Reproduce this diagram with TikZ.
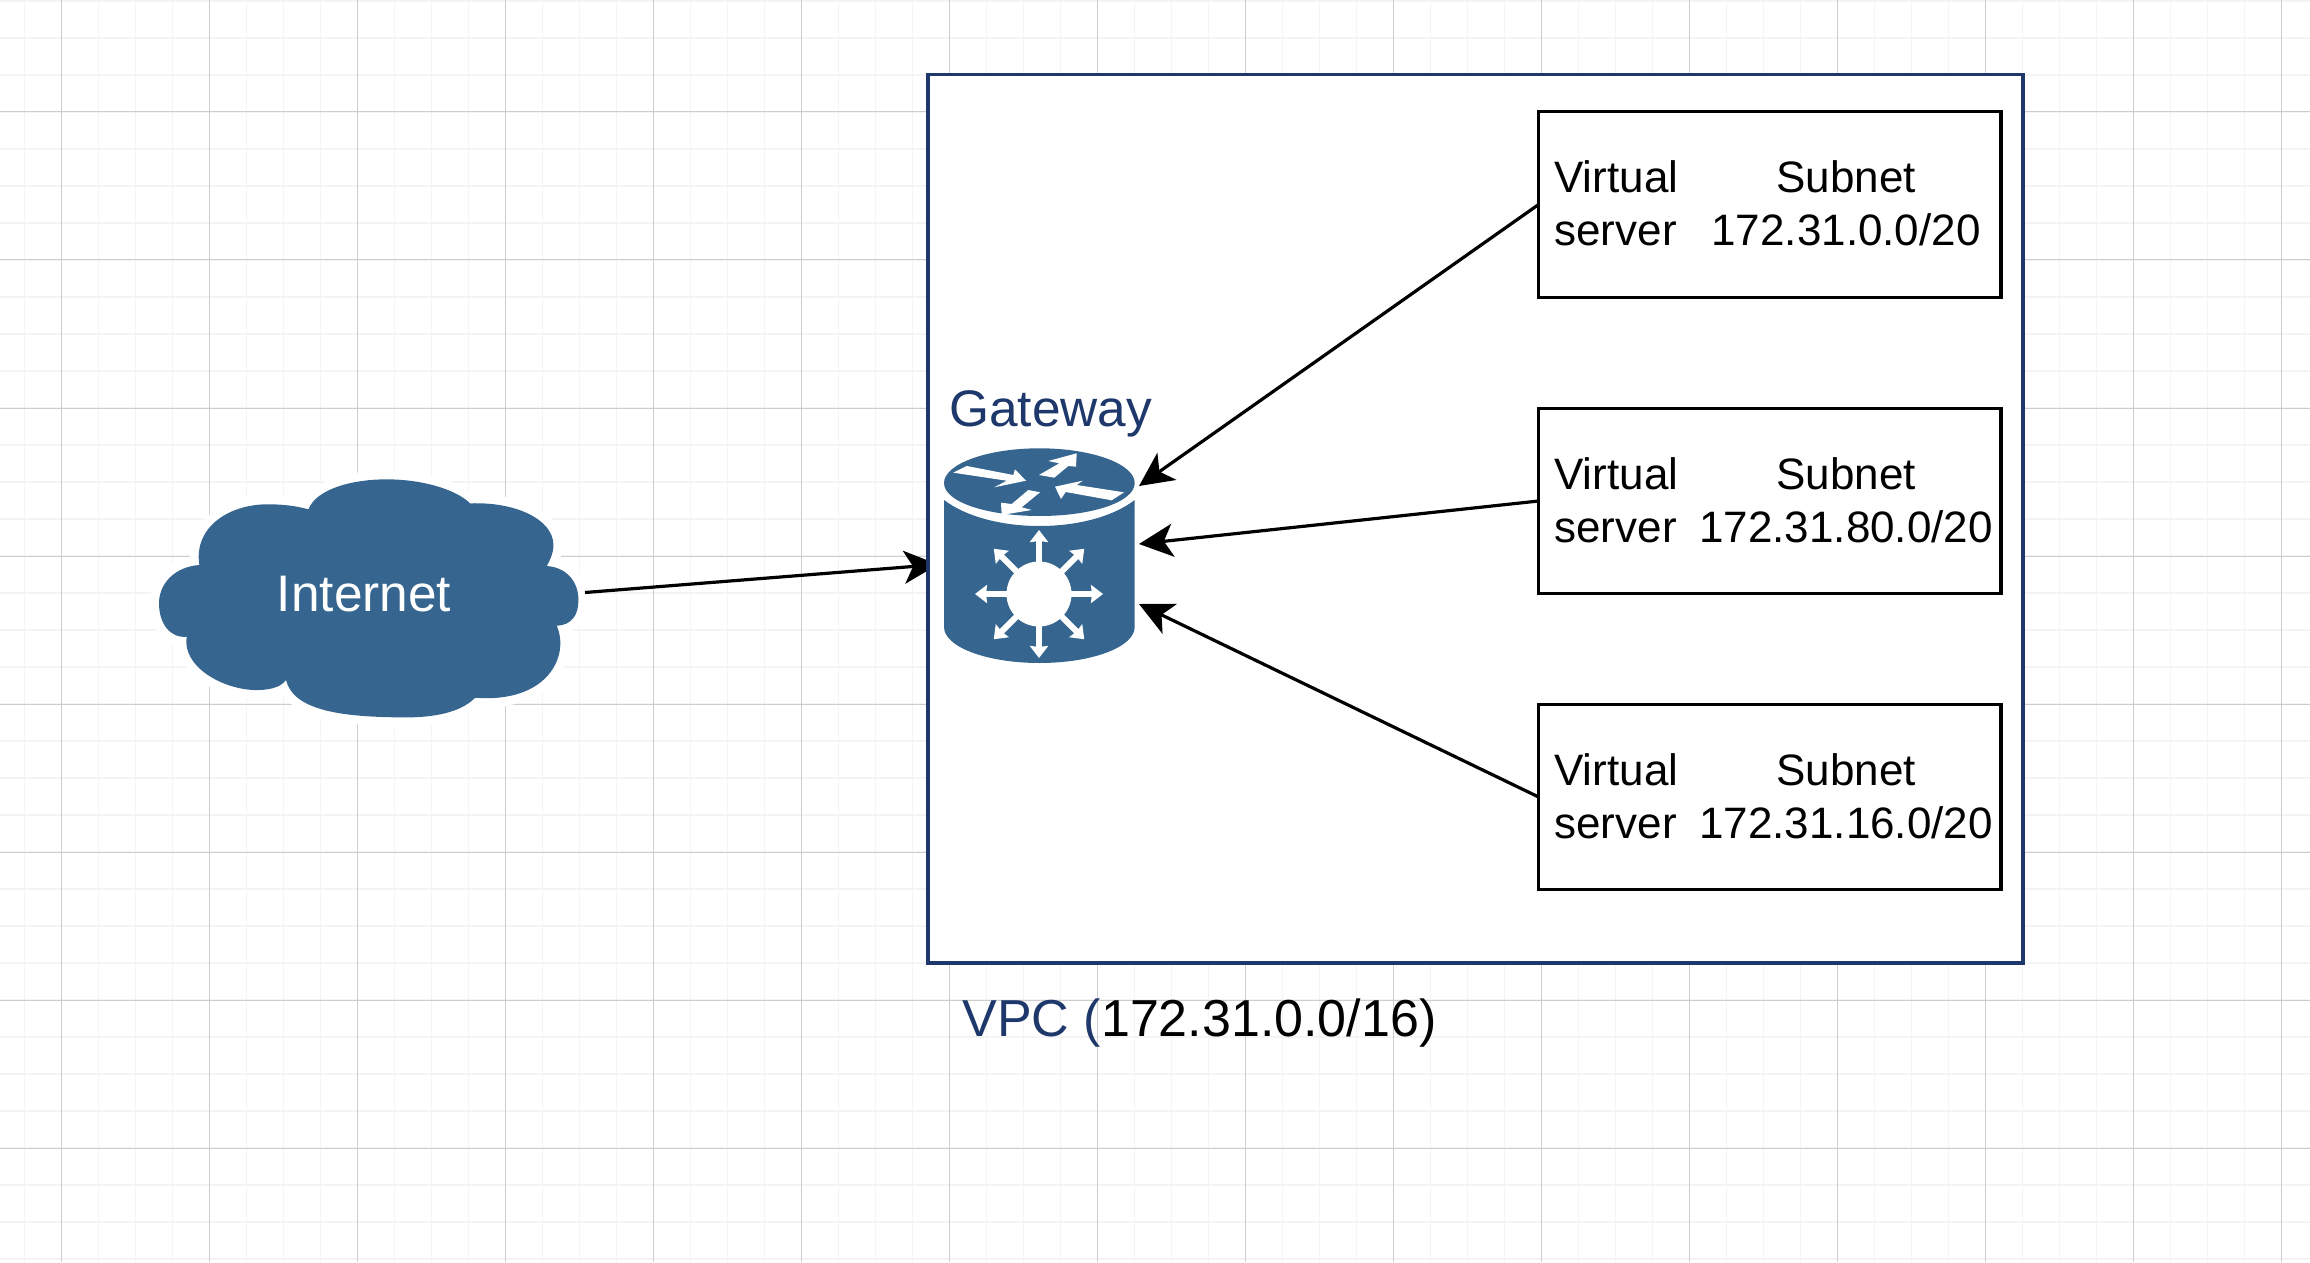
\documentclass[tikz,border=0pt]{standalone}
\usepackage{fontspec}
\setmainfont{Liberation Sans}
\usetikzlibrary{arrows.meta}
\definecolor{vpcnavy}{RGB}{31,56,107}
\definecolor{ciscoblue}{RGB}{54,102,143}
\definecolor{gridmajor}{RGB}{205,205,205}
\definecolor{gridminor}{RGB}{244,244,244}
\tikzset{
	vpcbox/.style={draw=vpcnavy,fill=white,line width=1.7pt,outer sep=0pt,inner sep=0pt,minimum width=547.5pt,minimum height=444.25pt},
	subnetbox/.style={draw=black,fill=white,line width=1.7pt,outer sep=0pt,inner sep=0pt,minimum width=231.2pt,minimum height=92.75pt},
	smalltext/.style={inner sep=0pt,font=\fontsize{22}{26.5}\selectfont},
	bigtext/.style={inner sep=0pt,font=\fontsize{25.7}{30}\selectfont},
	link/.style={black,line width=1.6pt,-{Stealth[length=17pt,width=16.5pt,inset=4.5pt]}},
	spoke/.style={white,line width=3pt,-{Stealth[length=6pt,width=9pt,inset=0.5pt]}}
}
\begin{document}
\begin{tikzpicture}[x=0.5pt,y=-0.5pt]
	\useasboundingbox (0,0) rectangle (2310,1262);
	\foreach \gx in {24.5,61.5,...,2310} \draw [gridminor,line width=0.75pt] (\gx,0)--(\gx,1262);
	\foreach \gy in {1,38,...,1262} \draw [gridminor,line width=0.75pt] (0,\gy)--(2310,\gy);
	\foreach \gx in {61.5,209.5,...,2310} \draw [gridmajor,line width=0.5pt] (\gx,0)--(\gx,1262);
	\foreach \gy in {112,260,...,1262} \draw [gridmajor,line width=0.5pt] (0,\gy)--(2310,\gy);

	\begin{scope}[shift={(140,460)},x=0.1667pt,y=-0.1667pt]
		\path [fill=ciscoblue,preaction={draw=white,line width=9pt}]
			(505,148) .. controls (530,85) and (640,58) .. (740,58) .. controls (850,58) and (950,90) .. (990,130)
			.. controls (1130,125) and (1240,180) .. (1240,255) .. controls (1240,280) and (1230,300) .. (1220,318)
			.. controls (1280,322) and (1315,365) .. (1315,420) .. controls (1315,465) and (1295,495) .. (1250,497)
			.. controls (1290,590) and (1220,730) .. (1005,713)
			.. controls (970,750) and (900,772) .. (800,772) .. controls (600,772) and (460,750) .. (438,660)
			.. controls (420,685) and (380,690) .. (350,690) .. controls (250,690) and (125,620) .. (140,530)
			.. controls (90,535) and (57,490) .. (57,430) .. controls (57,370) and (105,320) .. (178,315)
			.. controls (160,200) and (270,130) .. (390,133) .. controls (430,133) and (470,138) .. (505,148) -- cycle;
	\end{scope}
	\node [bigtext,white,anchor=base] (internet) at (364,611.7) {Internet};

	\coordinate (netout) at (585,592.5);
	\coordinate (gwleft) at (938,564.5);
	\draw [link] (netout)--(gwleft);

	\node [vpcbox] (vpc) at (1475.5,518.75) {};
	\node [bigtext,font=\fontsize{26}{30}\selectfont,anchor=base west] (vpclabel) at (962,1036) {\textcolor{vpcnavy}{VPC (}172.31.0.0/16)};

	\node [subnetbox] (boxa) at (1769.8,204.5) {};
	\node [subnetbox] (boxb) at (1769.8,501) {};
	\node [subnetbox] (boxc) at (1769.8,797) {};

	\node [smalltext,anchor=base west,align=left] (servera) at (1554,246) {Virtual\\server};
	\node [smalltext,anchor=base,align=center] (subneta) at (1846,246) {Subnet\\172.31.0.0/20};
	\node [smalltext,anchor=base west,align=left] (serverb) at (1554,542) {Virtual\\server};
	\node [smalltext,anchor=base,align=center] (subnetb) at (1846,542) {Subnet\\172.31.80.0/20};
	\node [smalltext,anchor=base west,align=left] (serverc) at (1554,838) {Virtual\\server};
	\node [smalltext,anchor=base,align=center] (subnetc) at (1846,838) {Subnet\\172.31.16.0/20};

	\node [bigtext,vpcnavy,anchor=base west] (gateway) at (949,426) {Gateway};

	\fill [ciscoblue] (944,483) .. controls (944,464) and (987,448.3) .. (1039.5,448.3) .. controls (1092,448.3) and (1134.7,464) .. (1134.7,483)
		.. controls (1134.7,502) and (1092,516) .. (1039.5,516) .. controls (987,516) and (944,502) .. (944,483) -- cycle;
	\fill [ciscoblue] (944,500) .. controls (965,516) and (1000,526) .. (1039.5,526) .. controls (1079,526) and (1114,516) .. (1134.7,500)
		-- (1134.7,627) .. controls (1134.7,647) and (1092,663) .. (1039.5,663) .. controls (987,663) and (944,647) .. (944,627) -- cycle;
	\fill [white] (953.3,472.7)--(966.7,466)--(1013.3,475)--(1015,469.3)--(1026,480.7)--(994.3,487.3)--(1006.7,480.7)--cycle;
	\fill [white] (1076.7,453.3)--(1048.3,461)--(1059.3,463.3)--(1039,475)--(1054.3,477.7)--(1068.3,466)--(1076,466.7)--cycle;
	\fill [white] (1055,486.7)--(1082.7,480.7)--(1076.7,485)--(1124,492.3)--(1111.7,500.3)--(1065.7,492)--(1061,499)--cycle;
	\fill [white] (1001.7,515)--(1001,502.7)--(1011.7,504)--(1028.3,490)--(1040,492.3)--(1021.7,507.3)--(1031.7,510)--cycle;

	\coordinate (hub) at (1039,594);
	\draw [spoke] (hub)--++(0:64);
	\draw [spoke] (hub)--++(45:64);
	\draw [spoke] (hub)--++(90:64);
	\draw [spoke] (hub)--++(135:64);
	\draw [spoke] (hub)--++(180:64);
	\draw [spoke] (hub)--++(225:64);
	\draw [spoke] (hub)--++(270:64);
	\draw [spoke] (hub)--++(315:64);
	\fill [white] (hub) circle (16.25pt);

	\coordinate (gwtop) at (1139,486);
	\coordinate (gwmid) at (1139,544);
	\coordinate (gwlow) at (1139,604);
	\draw [link] (boxa.west)--(gwtop);
	\draw [link] (boxb.west)--(gwmid);
	\draw [link] (boxc.west)--(gwlow);
\end{tikzpicture}
\end{document}
